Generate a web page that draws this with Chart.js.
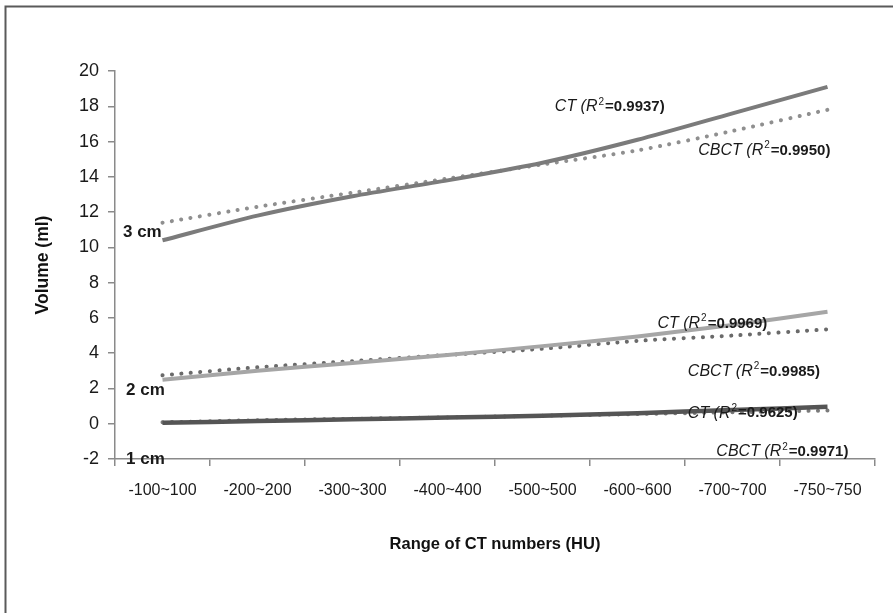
<!DOCTYPE html>
<html>
<head>
<meta charset="utf-8">
<script src="https://cdn.jsdelivr.net/npm/chart.js@4.4.1/dist/chart.umd.min.js"></script>
<style>
  html, body { margin: 0; padding: 0; background: #fff; }
  #wrap { position: relative; width: 893px; height: 613px; }
</style>
</head>
<body>
<div id="wrap"><canvas id="chart" width="893" height="613"></canvas></div>
<script>
// Categories (CT number windows)
const ranges = ['-100~100', '-200~200', '-300~300', '-400~400', '-500~500', '-600~600', '-700~700', '-750~750'];

// Volume (ml)
const ct3cm   = [10.4, 11.8, 12.9, 13.8, 14.8, 16.1, 17.6, 19.1];
const cbct3cm = [11.4, 12.3, 13.1, 13.9, 14.7, 15.5, 16.6, 17.8];
const ct2cm   = [2.5, 3.0, 3.45, 3.9, 4.4, 4.95, 5.6, 6.35];
const cbct2cm = [2.75, 3.2, 3.55, 3.9, 4.25, 4.7, 5.0, 5.35];
const ct1cm   = [0.05, 0.15, 0.25, 0.35, 0.45, 0.6, 0.78, 0.96];
const cbct1cm = [0.08, 0.2, 0.28, 0.36, 0.45, 0.55, 0.65, 0.75];

const yTicks = [-2, 0, 2, 4, 6, 8, 10, 12, 14, 16, 18, 20];

// Fit labels: name, R², anchored in data units (category index, volume)
const fitNames = ['CT', 'CBCT', 'CT', 'CBCT', 'CT', 'CBCT'];
const fitR2 = ['0.9937', '0.9950', '0.9969', '0.9985', '0.9625', '0.9971'];
const fitAt = [[4.13, 17.97], [5.64, 15.5], [5.21, 5.69], [5.53, 2.95], [5.53, 0.59], [5.83, -1.59]];

// Size labels
const sizeNames = ['3 cm', '2 cm', '1 cm'];
const sizeAt = [[-0.416, 10.83], [-0.384, 1.91], [-0.384, -2.02]];

const FONT = "'Liberation Sans', Arial, sans-serif";

const solid = (data, color, width) => ({
  data, borderColor: color, borderWidth: width, pointRadius: 0,
  tension: 0.25, fill: false, borderCapStyle: 'butt'
});
const dotted = (data, color) => ({
  data, borderColor: color, borderWidth: 4, pointRadius: 0,
  tension: 0.25, fill: false, borderDash: [0.1, 9.4], borderCapStyle: 'round'
});

// Frame around the figure (only top and left edges are visible in the crop)
const framePlugin = {
  id: 'frame',
  beforeDraw(chart) {
    const ctx = chart.ctx;
    ctx.save();
    ctx.strokeStyle = '#5a5a5a';
    ctx.lineWidth = 2;
    ctx.beginPath();
    ctx.moveTo(5.5, chart.height);
    ctx.lineTo(5.5, 6.5);
    ctx.lineTo(chart.width, 6.5);
    ctx.stroke();
    ctx.restore();
  }
};

const labelPlugin = {
  id: 'labels',
  afterDatasetsDraw(chart) {
    const ctx = chart.ctx;
    const x = chart.scales.x, y = chart.scales.y;
    ctx.save();
    ctx.fillStyle = '#1a1a1a';
    ctx.textBaseline = 'middle';
    ctx.textAlign = 'left';

    fitNames.forEach((name, i) => {
      let px = x.getPixelForValue(fitAt[i][0]);
      const py = y.getPixelForValue(fitAt[i][1]);
      ctx.font = 'italic 16px ' + FONT;
      const a = name + ' (R';
      ctx.fillText(a, px, py);
      px += ctx.measureText(a).width + 1;
      ctx.font = '10px ' + FONT;
      ctx.fillText('2', px, py - 5);
      px += ctx.measureText('2').width + 1;
      ctx.font = 'bold 15px ' + FONT;
      ctx.fillText('=' + fitR2[i] + ')', px, py);
    });

    ctx.font = 'bold 17px ' + FONT;
    sizeNames.forEach((name, i) => {
      ctx.fillText(name, x.getPixelForValue(sizeAt[i][0]), y.getPixelForValue(sizeAt[i][1]));
    });
    ctx.restore();
  }
};

new Chart(document.getElementById('chart'), {
  type: 'line',
  data: {
    labels: ranges,
    datasets: [
      solid(ct3cm, '#7b7b7b', 4),
      dotted(cbct3cm, '#8f8f8f'),
      solid(ct2cm, '#a6a6a6', 4),
      dotted(cbct2cm, '#6a6a6a'),
      solid(ct1cm, '#555555', 4.5),
      dotted(cbct1cm, '#7a7a7a')
    ]
  },
  options: {
    responsive: false,
    animation: false,
    layout: { padding: { top: 71, right: 18, bottom: 0, left: 0 } },
    plugins: {
      legend: { display: false },
      tooltip: { enabled: false }
    },
    scales: {
      x: {
        offset: true,
        grid: { offset: true, drawOnChartArea: false, drawTicks: true, tickLength: 7, color: '#8a8a8a', lineWidth: 1.5 },
        border: { color: '#8a8a8a', width: 1.5 },
        ticks: { color: '#1a1a1a', font: { family: FONT, size: 16 }, padding: 15, maxRotation: 0, autoSkip: false },
        title: {
          display: true, text: 'Range of CT numbers (HU)', color: '#111',
          font: { family: FONT, size: 16.5, weight: 'bold' }, padding: { top: 0, bottom: 59 }
        },
        afterFit(scale) { scale.height = 154; }
      },
      y: {
        min: -2,
        max: 20,
        afterBuildTicks(scale) { scale.ticks = yTicks.map(v => ({ value: v })); },
        grid: { drawOnChartArea: false, drawTicks: true, tickLength: 7, color: '#8a8a8a', lineWidth: 1.5 },
        border: { color: '#8a8a8a', width: 1.5 },
        ticks: { color: '#1a1a1a', font: { family: FONT, size: 18 }, padding: 9 },
        title: {
          display: true, text: 'Volume (ml)', color: '#111',
          font: { family: FONT, size: 17.5, weight: 'bold' }, padding: { top: 33, bottom: 0 }
        },
        afterFit(scale) { scale.width = 115; }
      }
    }
  },
  plugins: [framePlugin, labelPlugin]
});
</script>
</body>
</html>
